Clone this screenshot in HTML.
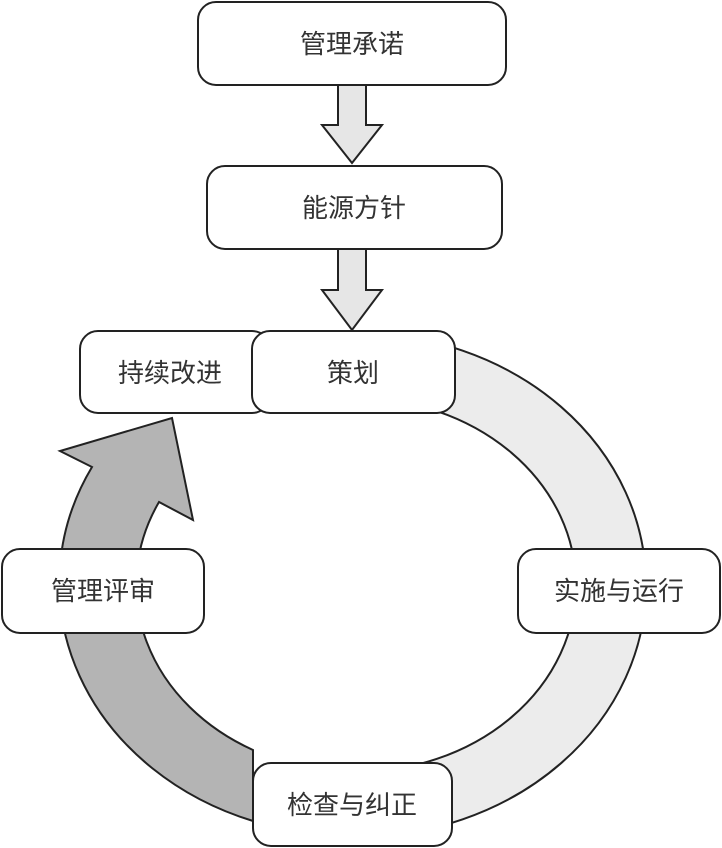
<!DOCTYPE html>
<html><head><meta charset="utf-8"><style>
html,body{margin:0;padding:0;background:#fff;}
svg{display:block;}
text{font-family:"Liberation Sans","Noto Sans CJK SC",sans-serif;font-size:26px;fill:#333;text-anchor:middle;dominant-baseline:central;}
</style></head><body>
<svg width="722" height="848" viewBox="0 0 722 848" xmlns="http://www.w3.org/2000/svg">
<g stroke="#222" stroke-width="2" stroke-linejoin="miter">
<path d="M338,85 L366,85 L366,125 L382,125 L352,163 L322,125 L338,125 Z" fill="#e6e6e6"/>
<path d="M338,249 L366,249 L366,290 L382,290 L352,330 L322,290 L338,290 Z" fill="#e6e6e6"/>
<path d="M356,333 A290,252 0 0 1 356,837 L356,772 A220,187 0 0 0 356,398 Z" fill="#ececec"/>
<path d="M253,821 A290,252 0 0 1 92,467 L60,451 L172,418 L193,520 L159,502 A220,187 0 0 0 253,750 Z" fill="#b4b4b4"/>
<rect x="198" y="2" width="308" height="83" rx="18" fill="#fff"/>
<rect x="207" y="166" width="295" height="83" rx="18" fill="#fff"/>
<rect x="80" y="331" width="190" height="82" rx="18" fill="#fff"/>
<rect x="252" y="331" width="203" height="82" rx="18" fill="#fff"/>
<rect x="2" y="549" width="202" height="84" rx="18" fill="#fff"/>
<rect x="518" y="549" width="202" height="84" rx="18" fill="#fff"/>
<rect x="253" y="763" width="199" height="83" rx="18" fill="#fff"/>
</g>
<text x="352" y="44">管理承诺</text>
<text x="354" y="208">能源方针</text>
<text x="170" y="373">持续改进</text>
<text x="353" y="373">策划</text>
<text x="103" y="591">管理评审</text>
<text x="619" y="591">实施与运行</text>
<text x="352" y="805">检查与纠正</text>
</svg>
</body></html>
